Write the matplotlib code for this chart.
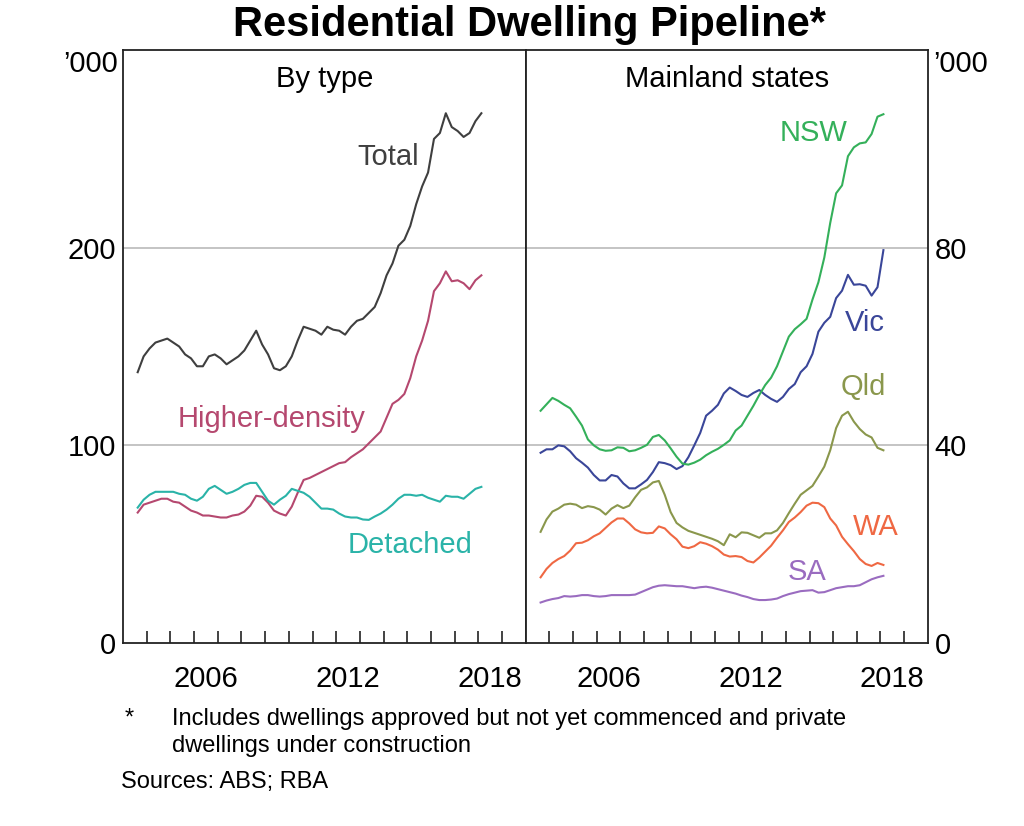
import numpy as np
import matplotlib
matplotlib.use("Agg")
from matplotlib import pyplot as plt
from matplotlib.ticker import FixedLocator

plt.rcParams['font.family'] = ['Liberation Sans', 'DejaVu Sans']

# quarterly, 2003 Q3 .. 2018 Q1 ('000 dwellings)
start = 2003.625
total = [137, 145, 149, 152, 153, 154, 152, 150, 146, 144,
         140, 140, 145, 146, 144, 141, 143, 145, 148, 153,
         158, 151, 146, 139, 138, 140, 145, 153, 160, 159,
         158, 156, 160, 158.5, 158, 156, 160, 163, 164, 167,
         170, 177, 186, 192, 201, 204, 211, 222, 231, 238,
         255, 258, 268, 261, 259, 256, 258, 264, 268]
higher_density = [66, 70, 71, 72, 73, 73, 71.5, 71, 69, 67,
                  66, 64.5, 64.5, 64, 63.5, 63.5, 64.5, 65, 66.5, 69.5,
                  74.5, 74, 71, 67, 65.5, 64.5, 69, 76, 82.5, 83.5,
                  85, 86.5, 88, 89.5, 91, 91.5, 94, 96, 98, 101,
                  104, 107, 114, 121, 123, 126, 134, 145, 153, 163,
                  178, 182, 188, 183, 183.5, 182, 179, 183.5, 186]
detached = [68.5, 72.5, 75, 76.5, 76.5, 76.5, 76.5, 75.5, 75, 73,
            72, 74, 78, 79.5, 77.5, 75.5, 76.5, 78, 80, 81,
            81, 76.5, 72, 70, 72.5, 74.5, 78, 77, 76, 74,
            71, 68, 68, 67.5, 65.5, 64, 63.5, 63.5, 62.5, 62.3,
            64, 65.5, 67.5, 70, 73, 75, 75, 74.5, 75, 73.5,
            72.5, 71.5, 74.5, 74, 74, 73, 75.5, 78, 79]

nsw = [47, 48.3, 49.6, 49, 48.2, 47.5, 45.8, 44, 41.2, 40,
       39.2, 38.9, 39, 39.6, 39.5, 38.8, 39, 39.5, 40.1, 41.7,
       42.1, 41, 39.4, 37.7, 36.3, 36.1, 36.5, 37.1, 38, 38.7,
       39.3, 40.1, 41, 43, 44, 46, 48, 50.2, 52.2, 53.7,
       56, 59, 62, 63.5, 64.5, 65.6, 69.5, 73, 78, 85,
       91, 92.6, 98.5, 100.3, 101.1, 101.3, 103, 106.5, 107]
vic = [38.5, 39.2, 39.2, 40, 39.8, 38.8, 37.4, 36.5, 35.5, 34,
       32.9, 32.9, 34, 33.7, 32.3, 31.3, 31.3, 32.1, 33, 34.6,
       36.6, 36.4, 36, 35.2, 35.8, 37.6, 40, 42.5, 46, 47,
       48.2, 50.5, 51.7, 51, 50.2, 49.8, 50.6, 51.2, 50.2, 49.4,
       48.8, 49.8, 51.4, 52.4, 54.8, 56, 58.5, 63, 64.8, 66,
       69.8, 71.3, 74.5, 72.5, 72.6, 72.3, 70.3, 72, 79.5]
qld = [22.5, 25, 26.6, 27.2, 28, 28.2, 28, 27.3, 27.7, 27.5,
       27, 26, 27.2, 27.9, 27.3, 27.8, 29.5, 31, 31.5, 32.5,
       32.8, 30, 26.5, 24.3, 23.4, 22.7, 22.3, 21.9, 21.5, 21.1,
       20.6, 19.8, 22, 21.4, 22.4, 22.3, 21.8, 21.3, 22.2, 22.2,
       22.8, 24.3, 26.3, 28.2, 30, 30.9, 31.8, 33.7, 35.7, 39,
       43.5, 46, 46.8, 44.8, 43.3, 42.2, 41.6, 39.5, 39]
wa = [13.3, 15, 16.2, 17, 17.6, 18.7, 20.2, 20.3, 20.8, 21.6,
      22.2, 23.3, 24.4, 25.2, 25.2, 24.2, 23, 22.4, 22.2, 22.3,
      23.6, 23.2, 22, 21, 19.5, 19.2, 19.6, 20.4, 20.1, 19.6,
      18.9, 17.9, 17.5, 17.6, 17.4, 16.6, 16.3, 17.3, 18.5, 19.7,
      21.3, 22.8, 24.5, 25.4, 26.5, 27.8, 28.4, 28.3, 27.5, 25.2,
      23.8, 21.5, 20, 18.6, 17, 16, 15.6, 16.2, 15.8]
sa = [8.2, 8.6, 8.9, 9.1, 9.5, 9.4, 9.5, 9.7, 9.7, 9.5,
      9.4, 9.5, 9.7, 9.7, 9.7, 9.7, 9.8, 10.3, 10.8, 11.3,
      11.6, 11.7, 11.6, 11.5, 11.5, 11.3, 11.1, 11.3, 11.4, 11.2,
      10.9, 10.6, 10.3, 10, 9.6, 9.3, 8.9, 8.7, 8.7, 8.8,
      9, 9.5, 9.9, 10.2, 10.5, 10.6, 10.7, 10.2, 10.3, 10.7,
      11.1, 11.3, 11.5, 11.5, 11.7, 12.3, 12.9, 13.3, 13.6]

years = start + 0.25 * np.arange(len(total))

c_total = '#3f3f3f'
c_hd = '#b5486f'
c_det = '#2ab3a8'
c_nsw = '#34b05a'
c_vic = '#3a4699'
c_qld = '#8a974c'
c_wa = '#ef6843'
c_sa = '#9a6cc0'

fs = 21
fig = plt.figure(figsize=(10.24, 8.26), dpi=100)
ax1 = fig.add_axes([0.120, 0.2215, 0.3935, 0.718])
ax2 = fig.add_axes([0.5135, 0.2215, 0.3925, 0.718])


def style(ax, ymax, grid):
    ax.set_xlim(2003, 2020)
    ax.set_ylim(0, ymax)
    for y in grid:
        ax.axhline(y, color='#b4b4b4', lw=1.1, zorder=0)
    for s in ax.spines.values():
        s.set_color('#222222')
        s.set_linewidth(1.3)
    ax.xaxis.set_major_locator(FixedLocator(np.arange(2004, 2020)))
    ax.xaxis.set_minor_locator(FixedLocator([2006.5, 2012.5, 2018.5]))
    ax.xaxis.set_major_formatter(plt.NullFormatter())
    ax.set_xticklabels(['2006', '2012', '2018'], minor=True)
    ax.tick_params(axis='x', which='major', direction='in', length=9, width=1.2, color='#222222')
    ax.tick_params(axis='x', which='minor', length=0, pad=16, labelsize=fs)


style(ax1, 300, [100, 200])
style(ax2, 120, [40, 80])

ax1.set_yticks([0, 100, 200])
ax1.tick_params(axis='y', length=0, pad=5, labelsize=fs)
ax2.set_yticks([0, 40, 80])
ax2.yaxis.tick_right()
ax2.tick_params(axis='y', length=0, pad=5, labelsize=fs)
ax2.tick_params(axis='y', left=False, labelleft=False)

lw = 1.5
ax1.plot(years, total, color=c_total, lw=lw)
ax1.plot(years, higher_density, color=c_hd, lw=lw)
ax1.plot(years, detached, color=c_det, lw=lw)

ax2.plot(years, sa, color=c_sa, lw=lw)
ax2.plot(years, wa, color=c_wa, lw=lw)
ax2.plot(years, qld, color=c_qld, lw=lw)
ax2.plot(years, vic, color=c_vic, lw=lw)
ax2.plot(years, nsw, color=c_nsw, lw=lw)

ax1.text(2014.2, 246, 'Total', color=c_total, fontsize=fs, ha='center', va='center')
ax1.text(2009.27, 113.4, 'Higher-density', color=c_hd, fontsize=fs, ha='center', va='center')
ax1.text(2015.12, 49.6, 'Detached', color=c_det, fontsize=fs, ha='center', va='center')
ax2.text(2015.19, 103.3, 'NSW', color=c_nsw, fontsize=fs, ha='center', va='center')
ax2.text(2017.35, 64.8, 'Vic', color=c_vic, fontsize=fs, ha='center', va='center')
ax2.text(2017.26, 51.8, 'Qld', color=c_qld, fontsize=fs, ha='center', va='center')
ax2.text(2017.8, 23.5, 'WA', color=c_wa, fontsize=fs, ha='center', va='center')
ax2.text(2014.89, 14.4, 'SA', color=c_sa, fontsize=fs, ha='center', va='center')

ax1.text(0.5, 0.975, 'By type', transform=ax1.transAxes, fontsize=fs, ha='center', va='top')
ax2.text(0.5, 0.975, 'Mainland states', transform=ax2.transAxes, fontsize=fs, ha='center', va='top')

fig.text(0.1152, 0.9395, "\u2019000", fontsize=fs, ha='right', va='top')
fig.text(0.911, 0.9395, "\u2019000", fontsize=fs, ha='left', va='top')

fig.text(0.517, 0.956, 'Residential Dwelling Pipeline*', fontsize=30, fontweight='bold',
         ha='center', va='baseline')

fig.text(0.122, 0.143, '*', fontsize=17, ha='left', va='top')
fig.text(0.168, 0.143, 'Includes dwellings approved but not yet commenced and private\n'
         'dwellings under construction', fontsize=17, ha='left', va='top', linespacing=1.3)
fig.text(0.118, 0.067, 'Sources: ABS; RBA', fontsize=17, ha='left', va='top')

fig.savefig('out.png', dpi=100)
